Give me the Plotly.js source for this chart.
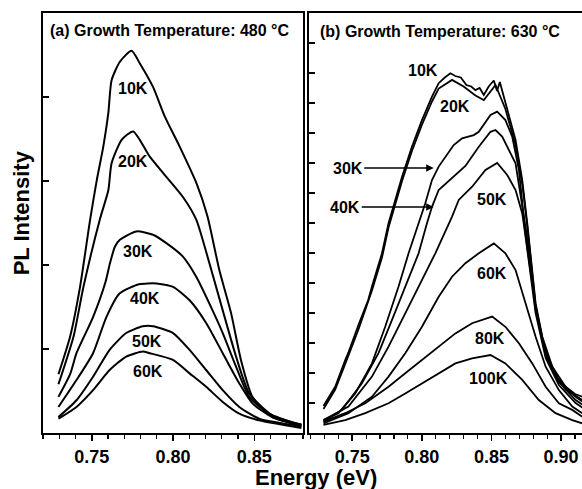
<!DOCTYPE html>
<html>
<head>
<meta charset="utf-8">
<script src="https://cdn.plot.ly/plotly-3.0.1.min.js"></script>
<style>html,body{margin:0;padding:0;background:#fff;}#chart{width:582px;height:489px;}</style>
</head>
<body>
<div id="chart"></div>
<script>
// ---------- Panel (a): growth temperature 480 C ----------
const aLabels = ["10K", "20K", "30K", "40K", "50K", "60K"];
const a10E = [0.7295, 0.7367, 0.7428, 0.749, 0.7531, 0.7571, 0.7602, 0.7622, 0.7673, 0.7745, 0.7796, 0.7877, 0.7949, 0.8041, 0.8143, 0.8212, 0.8285, 0.8357, 0.8418, 0.8489, 0.8612, 0.879];
const a10I = [0.70, 1.15, 1.74, 2.54, 3.01, 3.41, 3.81, 4.20, 4.42, 4.55, 4.40, 4.12, 3.77, 3.41, 2.98, 2.58, 1.94, 1.43, 0.87, 0.43, 0.19, 0.10];
const a20E = [0.7295, 0.7388, 0.7449, 0.7551, 0.7602, 0.7622, 0.7684, 0.7755, 0.7857, 0.7959, 0.8061, 0.8143, 0.8224, 0.8306, 0.8388, 0.8469, 0.861, 0.879];
const a20I = [0.58, 1.15, 1.74, 2.55, 2.89, 3.21, 3.49, 3.59, 3.29, 3.05, 2.81, 2.54, 2.02, 1.46, 0.91, 0.47, 0.21, 0.10];
const a30E = [0.7295, 0.7367, 0.7406, 0.7508, 0.7585, 0.7612, 0.7643, 0.7673, 0.7775, 0.7877, 0.7959, 0.8061, 0.8143, 0.8224, 0.8306, 0.8388, 0.8469, 0.8592, 0.879];
const a30I = [0.43, 0.70, 0.95, 1.38, 1.80, 2.02, 2.22, 2.30, 2.40, 2.36, 2.26, 2.10, 1.86, 1.54, 1.19, 0.79, 0.43, 0.23, 0.09];
const a40E = [0.7295, 0.7406, 0.7508, 0.759, 0.7671, 0.7791, 0.7898, 0.80, 0.8102, 0.8204, 0.8306, 0.8408, 0.849, 0.861, 0.879];
const a40I = [0.31, 0.63, 0.95, 1.38, 1.66, 1.77, 1.78, 1.74, 1.58, 1.31, 0.95, 0.59, 0.35, 0.19, 0.08];
const a50E = [0.7295, 0.7406, 0.7508, 0.761, 0.7712, 0.7814, 0.7877, 0.80, 0.8102, 0.8204, 0.8306, 0.8408, 0.853, 0.879];
const a50I = [0.19, 0.39, 0.67, 0.99, 1.19, 1.27, 1.27, 1.19, 0.99, 0.75, 0.51, 0.31, 0.17, 0.08];
const a60E = [0.7295, 0.7406, 0.7508, 0.761, 0.7712, 0.7814, 0.7857, 0.80, 0.8102, 0.8204, 0.8306, 0.8408, 0.853, 0.879];
const a60I = [0.17, 0.31, 0.51, 0.75, 0.91, 0.97, 0.95, 0.87, 0.71, 0.55, 0.37, 0.23, 0.15, 0.06];
const aLabelE = [0.7755, 0.7755, 0.7785, 0.7826, 0.7837, 0.7847];
const aLabelI = [4.10, 3.23, 2.16, 1.60, 1.09, 0.73];

// ---------- Panel (b): growth temperature 630 C ----------
const bLabels = ["10K", "20K", "30K", "40K", "50K", "60K", "80K", "100K"];
const b10E = [0.7294, 0.7378, 0.745, 0.7471, 0.7545, 0.7615, 0.7642, 0.7714, 0.7761, 0.7809, 0.7858, 0.7929, 0.8001, 0.8073, 0.8121, 0.8165, 0.8205, 0.824, 0.828, 0.832, 0.8355, 0.8385, 0.8415, 0.8445, 0.848, 0.8517, 0.854, 0.856, 0.860, 0.8673, 0.8721, 0.8757, 0.8817, 0.8865, 0.8937, 0.9032, 0.91, 0.9152];
const b10I = [0.90, 1.54, 2.43, 2.66, 3.60, 4.43, 4.88, 5.99, 6.99, 7.77, 8.54, 9.54, 10.43, 11.21, 11.66, 11.85, 11.99, 11.90, 11.85, 11.60, 11.55, 11.43, 11.50, 11.27, 11.55, 11.75, 11.40, 11.70, 10.99, 9.77, 8.43, 6.99, 4.32, 3.21, 2.21, 1.54, 1.30, 1.21];
const b20E = [0.7294, 0.7378, 0.745, 0.7545, 0.7642, 0.7714, 0.7761, 0.7809, 0.7858, 0.7929, 0.8001, 0.8073, 0.8121, 0.8217, 0.83, 0.8385, 0.8445, 0.8529, 0.860, 0.8673, 0.8721, 0.8757, 0.8817, 0.8865, 0.8937, 0.9032, 0.9152];
const b20I = [0.80, 1.45, 2.30, 3.45, 4.75, 5.85, 6.85, 7.62, 8.40, 9.40, 10.28, 11.05, 11.48, 11.77, 11.55, 11.25, 11.10, 11.60, 10.80, 9.60, 8.30, 6.90, 4.25, 3.10, 2.10, 1.45, 1.10];
const b30E = [0.7294, 0.7401, 0.7522, 0.7642, 0.7737, 0.7833, 0.7905, 0.7977, 0.8025, 0.8073, 0.8121, 0.8229, 0.8289, 0.8373, 0.8409, 0.8493, 0.8541, 0.860, 0.8649, 0.8697, 0.8745, 0.8817, 0.8889, 0.8984, 0.9104, 0.9152];
const b30I = [0.43, 0.66, 1.32, 2.32, 3.54, 4.88, 5.99, 6.99, 7.66, 8.43, 8.88, 9.60, 9.82, 9.93, 10.04, 10.60, 10.71, 10.43, 9.88, 8.77, 6.60, 4.20, 2.66, 1.77, 1.21, 1.05];
const b40E = [0.7294, 0.7426, 0.757, 0.7689, 0.7786, 0.7881, 0.7977, 0.8037, 0.8073, 0.8121, 0.8217, 0.8313, 0.8409, 0.8493, 0.8529, 0.8577, 0.8673, 0.8721, 0.8757, 0.8817, 0.8889, 0.8984, 0.9104, 0.9152];
const b40I = [0.38, 0.77, 1.66, 2.66, 3.77, 4.88, 5.99, 6.99, 7.54, 8.10, 8.50, 8.90, 9.54, 10.04, 10.10, 9.88, 8.99, 7.60, 6.50, 4.10, 2.60, 1.70, 1.10, 0.95];
const b50E = [0.7294, 0.7473, 0.7642, 0.7761, 0.7881, 0.7977, 0.8097, 0.8217, 0.8265, 0.8361, 0.8457, 0.8541, 0.8613, 0.8673, 0.8721, 0.8745, 0.8817, 0.8889, 0.8984, 0.9104, 0.9152];
const b50I = [0.43, 0.88, 1.88, 2.88, 3.99, 4.88, 5.99, 7.21, 7.77, 8.21, 8.77, 9.00, 8.60, 8.10, 7.32, 6.54, 4.00, 2.50, 1.60, 1.00, 0.85];
const b60E = [0.7294, 0.7473, 0.7642, 0.7761, 0.7881, 0.8001, 0.8121, 0.8217, 0.8313, 0.8409, 0.8517, 0.860, 0.8673, 0.8745, 0.8817, 0.8889, 0.8984, 0.908, 0.9152];
const b60I = [0.32, 0.66, 1.21, 1.88, 2.66, 3.54, 4.54, 5.21, 5.66, 5.99, 6.32, 5.99, 5.43, 4.32, 3.21, 2.21, 1.43, 0.88, 0.66];
const b80E = [0.7294, 0.745, 0.7594, 0.7761, 0.7881, 0.8001, 0.8121, 0.8241, 0.8361, 0.8505, 0.860, 0.8697, 0.8793, 0.8889, 0.8984, 0.908, 0.9152];
const b80I = [0.38, 0.66, 0.99, 1.54, 1.99, 2.43, 2.88, 3.32, 3.66, 3.88, 3.54, 2.99, 2.32, 1.54, 0.99, 0.77, 0.54];
const b100E = [0.7294, 0.745, 0.7594, 0.7761, 0.7881, 0.8001, 0.8121, 0.8241, 0.8361, 0.8493, 0.860, 0.8721, 0.884, 0.896, 0.908, 0.9152];
const b100I = [0.27, 0.43, 0.66, 0.99, 1.32, 1.66, 1.99, 2.32, 2.49, 2.60, 2.32, 1.77, 1.10, 0.66, 0.43, 0.32];
const bLabelE = [0.8005, 0.8241, 0.7468, 0.7450, 0.8505, 0.8505, 0.8493, 0.8481];
const bLabelI = [12.07, 10.88, 8.83, 7.53, 7.77, 5.32, 3.16, 1.82];
const bArrowE = [null, null, 0.8085, 0.8085, null, null, null, null];

const titleA = "(a) Growth Temperature: 480 °C";
const titleB = "(b) Growth Temperature: 630 °C";
const xTitle = "Energy (eV)";
const yTitle = "PL Intensity";

const FONT = "'Liberation Sans', Arial, Helvetica, sans-serif";
const aSeries = [[a10E,a10I],[a20E,a20I],[a30E,a30I],[a40E,a40I],[a50E,a50I],[a60E,a60I]];
const bSeries = [[b10E,b10I],[b20E,b20I],[b30E,b30I],[b40E,b40I],[b50E,b50I],[b60E,b60I],[b80E,b80I],[b100E,b100I]];

const traces = [];
aSeries.forEach(s => traces.push({x:s[0], y:s[1], xaxis:'x', yaxis:'y', mode:'lines',
  line:{color:'#000', width:2, shape:'spline', smoothing:0.6}, hoverinfo:'skip'}));
bSeries.forEach(s => traces.push({x:s[0], y:s[1], xaxis:'x2', yaxis:'y2', mode:'lines',
  line:{color:'#000', width:1.8}, hoverinfo:'skip'}));

const labFont = {family:FONT, size:16, color:'#000', weight:'bold'};
const annotations = [];
aLabels.forEach((t,i) => annotations.push({x:aLabelE[i], y:aLabelI[i], xref:'x', yref:'y', text:t, showarrow:false, font:labFont}));
bLabels.forEach((t,i) => {
  if (bArrowE[i] !== null) {
    annotations.push({x:bArrowE[i], y:bLabelI[i], xref:'x2', yref:'y2', ax:bLabelE[i], ay:bLabelI[i], axref:'x2', ayref:'y2',
      text:t, showarrow:true, arrowhead:2, arrowsize:1, arrowwidth:1.5, arrowcolor:'#000', standoff:0, font:labFont});
  } else {
    annotations.push({x:bLabelE[i], y:bLabelI[i], xref:'x2', yref:'y2', text:t, showarrow:false, font:labFont});
  }
});
const pFont = {family:FONT, size:16, color:'#000', weight:'bold'};
annotations.push({x:0.7233, y:4.79, xref:'x', yref:'y', xanchor:'left', yanchor:'middle', text:titleA, showarrow:false, font:pFont});
annotations.push({x:0.7255, y:13.4, xref:'x2', yref:'y2', xanchor:'left', yanchor:'middle', text:titleB, showarrow:false, font:pFont});
annotations.push({x:0.5074, y:-0.105, xref:'paper', yref:'paper', xanchor:'center', yanchor:'middle', text:xTitle, showarrow:false,
  font:{family:FONT, size:22, color:'#000', weight:'bold'}});
annotations.push({x:-0.040, y:0.524, xref:'paper', yref:'paper', xanchor:'center', yanchor:'middle', text:yTitle, textangle:-90, showarrow:false,
  font:{family:FONT, size:22, color:'#000', weight:'bold'}});

const tickFont = {family:FONT, size:18, color:'#000', weight:'bold'};
function bottomAxis(domain, range) {
  return {domain:domain, range:range, showgrid:false, zeroline:false, showline:true, linewidth:2, linecolor:'#000',
    mirror:true, ticks:'outside', ticklen:6, tickwidth:1.5, tickcolor:'#000', tick0:0.75, dtick:0.05,
    tickformat:'.2f', tickfont:tickFont,
    minor:{dtick:0.01, tick0:0.75, ticks:'outside', ticklen:3.5, tickwidth:1.2, tickcolor:'#000', showgrid:false}};
}
function topAxis(over, anchor, range) {
  return {overlaying:over, anchor:anchor, side:'top', range:range, showgrid:false, zeroline:false, showline:false,
    ticks:'inside', ticklen:5, tickwidth:1.5, tickcolor:'#000', tick0:0.75, dtick:0.05, showticklabels:false,
    minor:{dtick:0.01, tick0:0.75, ticks:'inside', ticklen:3, tickwidth:1.2, tickcolor:'#000', showgrid:false}};
}
const layout = {
  width:582, height:489, margin:{l:43, r:0, t:13, b:56},
  paper_bgcolor:'#fff', plot_bgcolor:'#fff', showlegend:false,
  xaxis: Object.assign(bottomAxis([0, 0.4824], [0.72, 0.88]), {anchor:'y'}),
  xaxis2: Object.assign(bottomAxis([0.4935, 1], [0.719, 0.915]), {anchor:'y2'}),
  xaxis3: topAxis('x', 'y', [0.72, 0.88]),
  xaxis4: topAxis('x2', 'y2', [0.719, 0.915]),
  yaxis: {domain:[0,1], anchor:'x', range:[0,5], dtick:1, ticks:'inside', ticklen:6, tickwidth:1.5, tickcolor:'#000',
    showticklabels:false, showgrid:false, zeroline:false, showline:true, linewidth:2, linecolor:'#000', mirror:true},
  yaxis2: {domain:[0,1], anchor:'x2', range:[0,14], dtick:1, ticks:'inside', ticklen:6, tickwidth:1.5, tickcolor:'#000',
    showticklabels:false, showgrid:false, zeroline:false, showline:true, linewidth:2, linecolor:'#000', mirror:false},
  annotations: annotations
};
Plotly.newPlot('chart', traces, layout, {staticPlot:true, displayModeBar:false});
</script>
</body>
</html>
